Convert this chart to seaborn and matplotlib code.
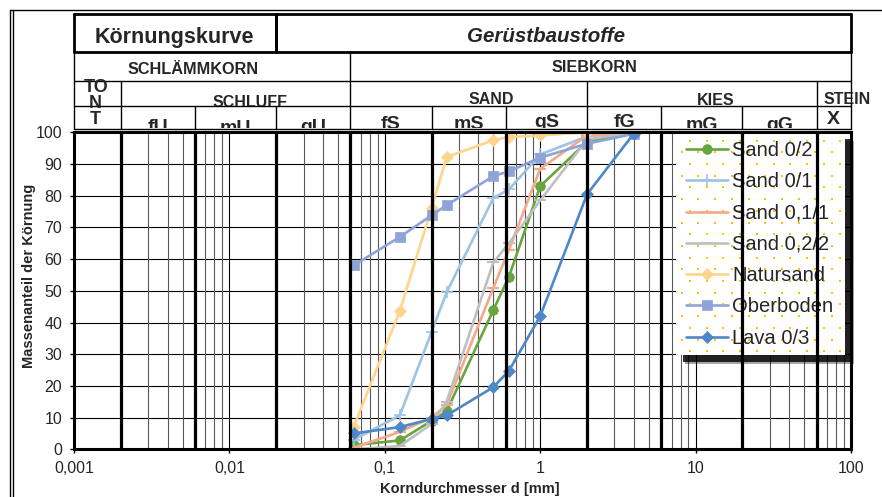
import numpy as np
import pandas as pd
import matplotlib
matplotlib.use("Agg")
import matplotlib.pyplot as plt
import seaborn as sns
from matplotlib.lines import Line2D
from matplotlib.patches import Rectangle
from matplotlib.transforms import Bbox, TransformedBbox, blended_transform_factory

# sieve sizes [mm] and passing percentages
sieves = [0.063, 0.125, 0.2, 0.25, 0.5, 0.63, 1, 2, 4]
sieves_02 = sieves + [8]
sieves_nat = sieves[:-1]

sand_02 = [1.3, 2.8, 9, 12, 44, 54.5, 83, 97, 100, 100]
sand_01 = [3, 10.7, 37, 49.5, 79.3, 82, 93, 98.7, 100]
sand_011 = [0.5, 5.5, 10, 14, 51, 63, 88.5, 99, 100]
sand_022 = [0, 1, 8, 15, 59, 65, 78.5, 97.7, 100]
natursand = [7, 43.7, 76, 92.2, 97.5, 98.5, 99, 100]
oberboden = [58, 67, 73.8, 77, 86.2, 87.7, 92, 96.4, 99.5]
lava_03 = [5, 7, 9.6, 10.7, 19.6, 24.8, 42, 80.4, 99.6]

names = ["Sand 0/2", "Sand 0/1", "Sand 0,1/1", "Sand 0,2/2", "Natursand", "Oberboden", "Lava 0/3"]
xs = [sieves_02, sieves, sieves, sieves, sieves_nat, sieves, sieves]
ys = [sand_02, sand_01, sand_011, sand_022, natursand, oberboden, lava_03]

x_ticks = [0.001, 0.01, 0.1, 1, 10, 100]
x_ticklabels = ["0,001", "0,01", "0,1", "1", "10", "100"]

# header texts
row2_labels = ["SCHLÄMMKORN", "SIEBKORN"]
row3_labels = ["SCHLUFF", "SAND", "KIES", "STEIN"]
row4_labels = ["fU", "mU", "gU", "fS", "mS", "gS", "fG", "mG", "gG"]

styles = {
    "Sand 0/2": dict(color="#6AA43F", marker="o", ms=7),
    "Sand 0/1": dict(color="#9DC3E6", marker="+", ms=8, mew=1.2),
    "Sand 0,1/1": dict(color="#F4A98A", marker="_", ms=8, mew=1.5),
    "Sand 0,2/2": dict(color="#BFBFBF", marker="_", ms=8, mew=1.5),
    "Natursand": dict(color="#FFD48C", marker="D", ms=6),
    "Oberboden": dict(color="#8EA4D9", marker="s", ms=7.5),
    "Lava 0/3": dict(color="#4F88C6", marker="D", ms=6),
}

sns.set_style("white")
plt.rcParams["font.family"] = ["Liberation Sans", "DejaVu Sans"]

W, H = 882, 497
fig = plt.figure(figsize=(W / 100, H / 100), dpi=100)
ax = fig.add_axes([74 / W, 1 - 449.3 / H, (851 - 74) / W, (449.3 - 132.3) / H])

for name, d, p in zip(names, xs, ys):
    st = styles[name]
    sns.lineplot(x=d, y=p, ax=ax, label=name, color=st["color"], marker=st["marker"],
                 markersize=st["ms"], markeredgecolor=st["color"],
                 markerfacecolor=st["color"], markeredgewidth=st.get("mew", 0.5),
                 linewidth=1.9, zorder=3)

ax.set_xscale("log")
ax.set_xlim(0.001, 100)
ax.set_ylim(0, 100)
ax.set_xticks(x_ticks)
ax.set_xticklabels(x_ticklabels)
ax.xaxis.set_minor_locator(matplotlib.ticker.NullLocator())
ax.set_yticks(np.arange(0, 101, 10))
ax.tick_params(axis="both", direction="out", length=3, width=1, color="black",
               labelsize=11.5, pad=5.5, bottom=True, left=True)

# grid
for yv in range(10, 100, 10):
    ax.axhline(yv, color="black", lw=0.8, zorder=1)
for e in range(-3, 2):
    base = 10.0 ** e
    if e > -3:
        ax.axvline(base, color="black", lw=0.8, zorder=1)
    for k in range(2, 10):
        if k in (2, 6):
            ax.axvline(k * base, color="black", lw=2.3, zorder=6)
        else:
            ax.axvline(k * base, color="#5A5A5A", lw=0.8, zorder=1)

for sp in ax.spines.values():
    sp.set_color("black")
    sp.set_linewidth(2.2)
    sp.set_zorder(7)

ax.set_ylabel("Massenanteil der Körnung", fontsize=10.5, fontweight="bold")
ax.set_xlabel("Korndurchmesser d [mm]", fontsize=10.5, fontweight="bold")
ax.yaxis.set_label_coords(-0.049, 0.548)
ax.xaxis.set_label_coords(0.51, -0.103)


def fy(px):
    return 1 - px / H


# legend: dotted white box with a dark drop shadow, drawn behind the entries
lx0, lx1, ly0, ly1 = 676, 845, 132, 355
for off, a in [(9, 0.35), (7, 0.8)]:
    ax.add_patch(Rectangle((lx0 / W + off / W, fy(ly1 + off)), (lx1 - lx0) / W, (ly1 - ly0) / H,
                           transform=fig.transFigure, facecolor="black", alpha=a, lw=0,
                           zorder=4.8, clip_on=False))
ax.add_patch(Rectangle((lx0 / W, fy(ly1)), (lx1 - lx0) / W, (ly1 - ly0) / H,
                       transform=fig.transFigure, facecolor="white", lw=0,
                       zorder=4.9, clip_on=False))
dots_x, dots_y = [], []
for i, yy in enumerate(np.arange(ly0 + 8.7, ly1 - 2, 11.7)):
    start = lx0 + (14 if i % 2 == 0 else 5.7)
    for xx in np.arange(start, lx1 - 2, 16.7):
        dots_x.append(xx / W)
        dots_y.append(fy(yy))
ax.scatter(dots_x, dots_y, s=3, marker="s", color="#FFC000", lw=0,
           transform=fig.transFigure, zorder=4.95, clip_on=False)

leg = ax.legend(loc="upper left", bbox_to_anchor=(lx0 / W, fy(ly0 - 1)),
                bbox_transform=fig.transFigure, fontsize=14.5, frameon=False,
                handlelength=2.1, handletextpad=0.2, labelspacing=0.61,
                borderpad=0.5, borderaxespad=0)
leg.set_zorder(5)

# header table (x in data coords, y in figure pixels from top)
blend = blended_transform_factory(ax.transData, fig.transFigure)


def hline(x0, x1, ypx, lw=1.0):
    fig.add_artist(Line2D([x0, x1], [fy(ypx), fy(ypx)], color="black", lw=lw,
                          transform=blend, clip_on=False))


def vline(x, y0, y1, lw=1.0):
    fig.add_artist(Line2D([x, x], [fy(y0), fy(y1)], color="black", lw=lw,
                          transform=blend, clip_on=False))


def htext(x, ypx, s, size=11.5, top=None, bottom=None, **kw):
    t = fig.text(x, fy(ypx), s, transform=blend, ha="center", va="baseline",
                 fontsize=size, fontweight="bold", **kw)
    if top is not None:
        bb = TransformedBbox(Bbox([[0, fy(bottom)], [1, fy(top)]]), fig.transFigure)
        t.set_clip_box(bb)
        t.set_clip_on(True)
    return t


# title row
for (a, b) in [(0.001, 0.02), (0.02, 100)]:
    hline(a, b, 14, lw=2)
    hline(a, b, 52, lw=2)
    vline(a, 14, 52, lw=2)
    vline(b, 14, 52, lw=2)
htext(0.0044, 43, "Körnungskurve", size=15.5)
htext(1.09, 42, "Gerüstbaustoffe", size=14.8, fontstyle="italic")

hline(0.001, 100, 81)
hline(0.001, 100, 106)
hline(0.001, 100, 128.8)
vline(0.001, 52, 129)
vline(100, 52, 129)
vline(0.06, 52, 129)
for xb in [0.002, 2, 60]:
    vline(xb, 81, 129)
for xb in [0.006, 0.02, 0.2, 0.6, 6, 20]:
    vline(xb, 106, 129)

for x, s, yb in zip([0.00583, 2.22], row2_labels, [74.5, 72]):
    htext(x, yb, s, size=11.7)
for x, s, yb in zip([0.01357, 0.482, 13.5, 94], row3_labels, [107, 104, 105, 104]):
    htext(x, yb, s, size=11.5, top=81, bottom=106)
bounds = [0.002, 0.006, 0.02, 0.06, 0.2, 0.6, 2, 6, 20, 60]
row4_base = [132.5, 133, 132.5, 129, 129, 127, 127, 130.5, 130.5]
for a, b, s, yb in zip(bounds[:-1], bounds[1:], row4_labels, row4_base):
    htext(np.sqrt(a * b), yb, s, size=14, top=106, bottom=128.3)
htext(np.sqrt(60 * 100), 124.5, "X", size=14)
htext(0.00138, 123.5, "TO\nN\nT", size=13, linespacing=0.9, multialignment="center")

# outer page frame
fig.add_artist(Line2D([10 / W, 1], [fy(10), fy(10)], color="black", lw=1.0))
for xp in (10, 13):
    fig.add_artist(Line2D([xp / W, xp / W], [fy(10), 0], color="black", lw=1.0))

fig.savefig("out.png", dpi=100)
